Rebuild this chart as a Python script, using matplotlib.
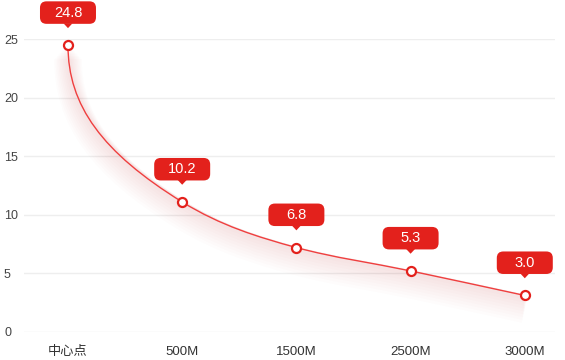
import numpy as np
import matplotlib.pyplot as plt
import matplotlib.patheffects as pe
from matplotlib.path import Path
from matplotlib.patches import PathPatch, FancyBboxPatch, Polygon
from matplotlib.transforms import ScaledTranslation

plt.rcParams['font.family'] = ['Liberation Sans', 'Noto Sans CJK SC', 'DejaVu Sans']

categories = ['中心点', '500M', '1500M', '2500M', '3000M']
# marker heights as drawn in the picture, and the texts shown in the tags
values = [24.5, 11.1, 7.2, 5.2, 3.1]
tag_texts = ['24.8', '10.2', '6.8', '5.3', '3.0']
yticks = [0, 5, 10, 15, 20, 25]

red = '#e3211c'
line_red = '#ef3f3f'

fig = plt.figure(figsize=(5.65, 3.6), dpi=100)
ax = fig.add_axes([0.0425, 0.0786, 0.9395, 0.8117])
ax.set_xlim(-0.385, 4.263)
ax.set_ylim(0, 25)

x = np.arange(len(values), dtype=float)
y = np.array(values, dtype=float)
n = len(y)

# monotone smoothing: harmonic-mean slopes, first segment leaves vertically
d = np.diff(y)
m = np.zeros(n)
for i in range(1, n - 1):
    m[i] = 2 / (1 / d[i - 1] + 1 / d[i])
m[-1] = d[-1]
verts = [(x[0], y[0])]
codes = [Path.MOVETO]
for i in range(n - 1):
    if i == 0:
        corner = y[1] - m[1]
        c1 = (x[0], y[0] - 0.7 * (y[0] - corner))
        c2 = (x[1] - 0.7, y[1] - 0.7 * m[1])
    else:
        c1 = (x[i] + 1 / 3, y[i] + m[i] / 3)
        c2 = (x[i + 1] - 1 / 3, y[i + 1] - m[i + 1] / 3)
    verts += [c1, c2, (x[i + 1], y[i + 1])]
    codes += [Path.CURVE4] * 3
curve = Path(verts, codes)

glow = [pe.SimpleLineShadow(offset=(0, -k * 1.1), shadow_color=red,
                            alpha=0.013, linewidth=2 + k * 2.0)
        for k in range(1, 10)]
ax.add_patch(PathPatch(curve, fill=False, edgecolor=line_red, lw=1,
                       path_effects=glow + [pe.Normal()], zorder=3))

ax.plot(x, y, 'o', ms=6.5, mfc='white', mec=red, mew=1.6, zorder=5)

# label tags (sizes in inches, anchored at each point)
for xi, yi, t in zip(x, y, tag_texts):
    tr = fig.dpi_scale_trans + ScaledTranslation(xi, yi, ax.transData)
    box = FancyBboxPatch((-0.23, 0.265), 0.46, 0.125,
                         boxstyle='round,pad=0.05,rounding_size=0.065',
                         fc=red, ec='none', transform=tr, zorder=6,
                         clip_on=False)
    ax.add_patch(box)
    ax.add_patch(Polygon([(-0.045, 0.22), (0.045, 0.22), (0, 0.172)],
                         closed=True, fc=red, ec='none', transform=tr,
                         zorder=6, clip_on=False))
    ax.text(0, 0.325, t, transform=tr, ha='center', va='center',
            fontsize=10.5, color='white', zorder=7, clip_on=False)

ax.set_yticks(yticks)
ax.set_xticks(x)
ax.set_xticklabels(categories)
ax.grid(axis='y', color='#eeeeee', lw=1)
ax.set_axisbelow(True)
for s in ax.spines.values():
    s.set_visible(False)
ax.tick_params(length=0, colors='#333333')
ax.tick_params(axis='y', pad=14.4, labelsize=9, labelcolor='#444444')
ax.tick_params(axis='x', pad=10, labelsize=9.5)
for lbl in ax.get_yticklabels():
    lbl.set_ha('left')

fig.savefig('out.png', dpi=100)
